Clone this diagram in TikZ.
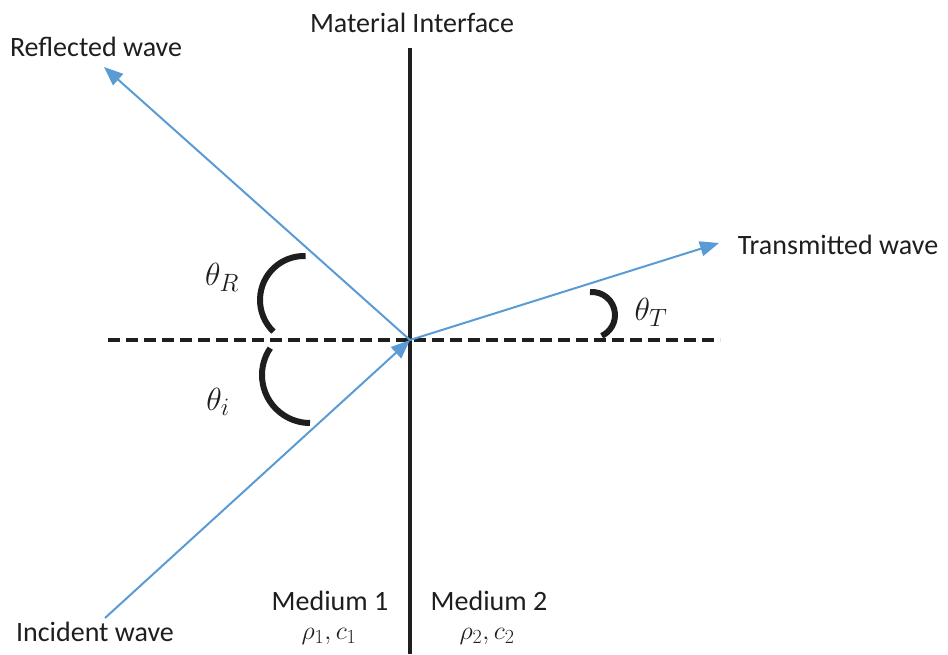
\documentclass[tikz,border=0pt]{standalone}
\usepackage{fix-cm}
\usepackage{fontspec}
\setmainfont{Carlito}
\DeclareMathSizes{32}{32}{25}{20}
\DeclareMathSizes{26}{26}{20}{16}
\usetikzlibrary{arrows.meta}
\definecolor{wblue}{RGB}{91,155,213}
\definecolor{ink}{RGB}{30,30,30}
\tikzset{
  wave/.style={draw=wblue, line width=2pt, -{Triangle[length=19pt,width=15pt]}},
  anglearc/.style={draw=ink, line width=6pt},
  lbl/.style={font=\fontsize{28}{32}\selectfont, text=ink, inner sep=0pt},
  plbl/.style={font=\fontsize{26}{30}\selectfont, text=ink, inner sep=0pt},
  mlbl/.style={font=\fontsize{32}{36}\selectfont, text=ink, inner sep=0pt},
}
\begin{document}
\begin{tikzpicture}[x=1pt,y=-1pt]
\useasboundingbox (0,0) rectangle (948,654);
% key points
\coordinate (O) at (410,340);
\coordinate (itop) at (410,48);
\coordinate (ibot) at (410,654);
\coordinate (dl) at (108,340);
\coordinate (dr) at (720,340);
\coordinate (inc) at (105,618);
\coordinate (refl) at (104,67);
\coordinate (trans) at (719,243);
% interface and normal
\draw[ink, line width=4pt] (itop) -- (ibot);
\draw[ink, line width=4pt, dash pattern=on 12pt off 6pt] (dl) -- (dr);
% waves
\draw[wave] (inc) -- (O);
\draw[wave] (O) -- (refl);
\draw[wave] (O) -- (trans);
% angle arcs (y axis points down, so angles are negated)
\draw[anglearc] (304,300) ++(-88:44) arc[start angle=-88, end angle=-226, radius=44];
\draw[anglearc] (310,375) ++(-146:48) arc[start angle=-146, end angle=-270, radius=48];
\draw[anglearc] (592,315) ++(-95:23) arc[start angle=-95, end angle=65, radius=23];
% labels
\node[lbl] (tmi) at (412,23) {Material Interface};
\node[lbl] (trw) at (96,47) {Reflected wave};
\node[lbl] (ttw) at (838,245) {Transmitted wave};
\node[lbl] (tiw) at (95,632) {Incident wave};
\node[lbl] (tm1) at (330,601) {Medium 1};
\node[lbl] (tm2) at (489,601) {Medium 2};
\node[plbl] (tp1) at (329,636) {$\rho_1, c_1$};
\node[plbl] (tp2) at (487,636) {$\rho_2, c_2$};
\node[mlbl] (thR) at (222,277) {$\theta_R$};
\node[mlbl] (thi) at (218,402) {$\theta_i$};
\node[mlbl] (thT) at (651,312) {$\theta_T$};
\end{tikzpicture}
\end{document}
